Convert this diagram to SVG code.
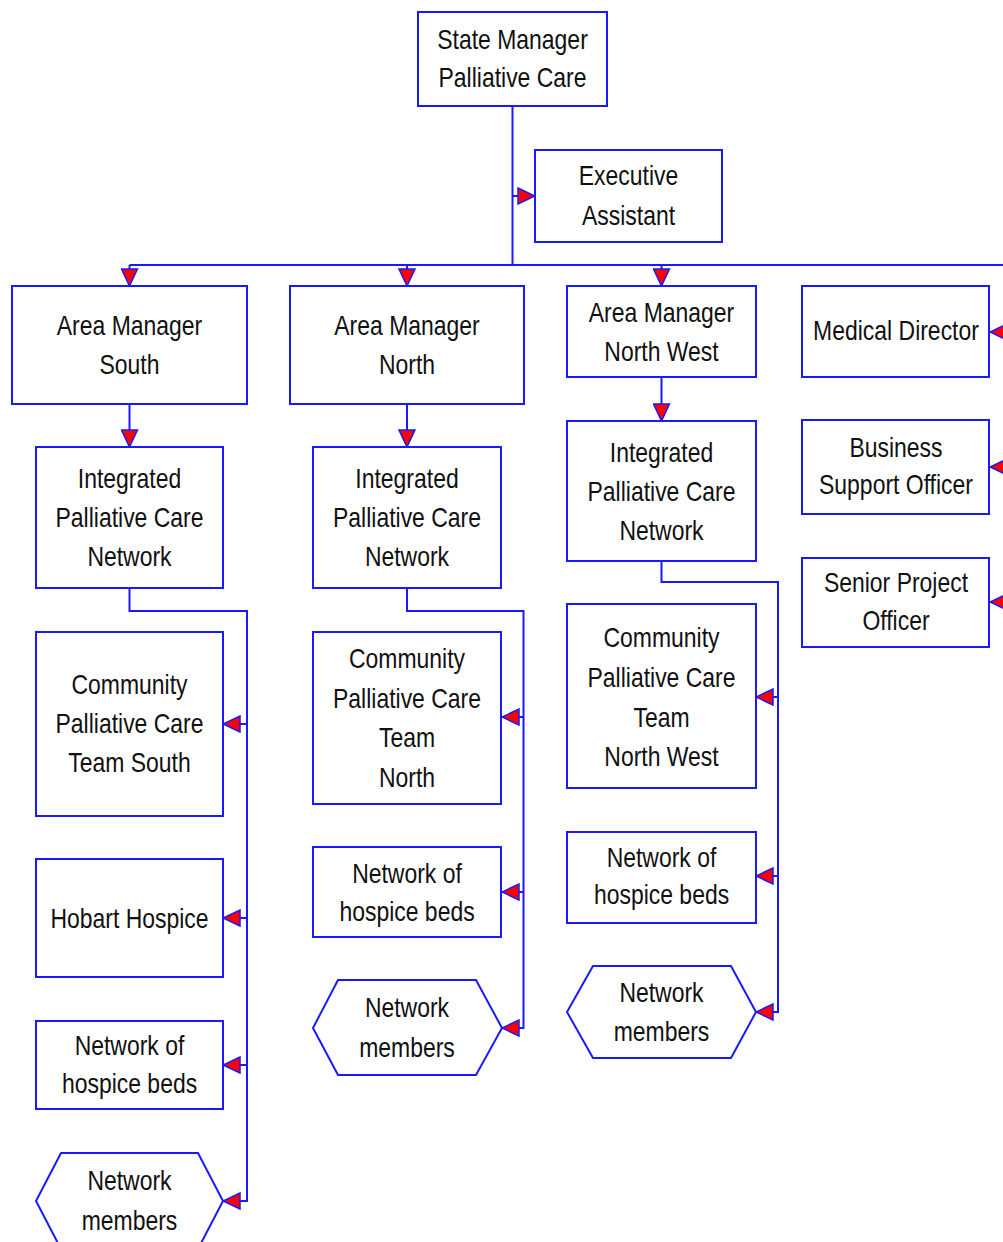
<svg xmlns="http://www.w3.org/2000/svg" width="1003" height="1242" viewBox="0 0 1003 1242">
  <defs>
    <marker id="arrow" markerUnits="userSpaceOnUse" viewBox="-1 -1 19 18" markerWidth="19" markerHeight="18" refX="17" refY="8" orient="auto">
      <path d="M0,0 L17,8 L0,16 Z" fill="#ff0000" stroke="#1a1aff" stroke-width="1.5" stroke-linejoin="miter"/>
    </marker>
    <style>
      .box { fill: #ffffff; stroke: #1a1aff; stroke-width: 2; }
      .link { fill: none; stroke: #1a1aff; stroke-width: 2; }
      .arrowed { marker-end: url(#arrow); }
      text { font-family: "Liberation Sans", Arial, sans-serif; font-size: 28px; fill: #111111; text-anchor: middle; }
    </style>
  </defs>

  <rect width="1003" height="1242" fill="#ffffff"/>

  <!-- connectors -->
  <g id="connectors">
    <path class="link" d="M512.5,106 V265"/>
    <path class="link arrowed" d="M512.5,196 H535"/>
    <path class="link" d="M129.5,265 H1012"/>
    <path class="link arrowed" d="M129.5,265 V286"/>
    <path class="link arrowed" d="M407,265 V286"/>
    <path class="link arrowed" d="M661.5,265 V286"/>
    <path class="link" d="M1012,265 V602"/>
    <path class="link arrowed" d="M1012,332 H990"/>
    <path class="link arrowed" d="M1012,467 H990"/>
    <path class="link arrowed" d="M1012,602 H990"/>

    <path class="link arrowed" d="M129.5,404 V447"/>
    <path class="link arrowed" d="M407,404 V447"/>
    <path class="link arrowed" d="M661.5,377 V421"/>

    <path class="link arrowed" d="M129.5,588 V611 H247 V1201 H223"/>
    <path class="link arrowed" d="M247,724 H223"/>
    <path class="link arrowed" d="M247,918 H223"/>
    <path class="link arrowed" d="M247,1065 H223"/>

    <path class="link arrowed" d="M407,588 V611 H523.5 V1028 H502"/>
    <path class="link arrowed" d="M523.5,717 H502"/>
    <path class="link arrowed" d="M523.5,892 H502"/>

    <path class="link arrowed" d="M661.5,561 V582 H778 V1012 H756"/>
    <path class="link arrowed" d="M778,697 H756"/>
    <path class="link arrowed" d="M778,876 H756"/>
  </g>

  <!-- labels use a narrowed sans: each line is centred on its node and compressed horizontally -->

  <!-- top level -->
  <g id="state-manager">
    <rect class="box" x="418" y="12" width="189" height="94"/>
    <text transform="translate(512.5 49) scale(0.82 1)">State Manager</text>
    <text transform="translate(512.5 87) scale(0.82 1)">Palliative Care</text>
  </g>
  <g id="executive-assistant">
    <rect class="box" x="535" y="150" width="187" height="92"/>
    <text transform="translate(628.5 185) scale(0.82 1)">Executive</text>
    <text transform="translate(628.5 225) scale(0.82 1)">Assistant</text>
  </g>

  <!-- area managers -->
  <g id="area-manager-south">
    <rect class="box" x="12" y="286" width="235" height="118"/>
    <text transform="translate(129.5 335) scale(0.82 1)">Area Manager</text>
    <text transform="translate(129.5 374) scale(0.82 1)">South</text>
  </g>
  <g id="area-manager-north">
    <rect class="box" x="290" y="286" width="234" height="118"/>
    <text transform="translate(407 335) scale(0.82 1)">Area Manager</text>
    <text transform="translate(407 374) scale(0.82 1)">North</text>
  </g>
  <g id="area-manager-north-west">
    <rect class="box" x="567" y="286" width="189" height="91"/>
    <text transform="translate(661.5 322) scale(0.82 1)">Area Manager</text>
    <text transform="translate(661.5 361) scale(0.82 1)">North West</text>
  </g>

  <!-- statewide roles -->
  <g id="medical-director">
    <rect class="box" x="802" y="286" width="187" height="91"/>
    <text transform="translate(896 340) scale(0.82 1)">Medical Director</text>
  </g>
  <g id="business-support-officer">
    <rect class="box" x="802" y="420" width="187" height="94"/>
    <text transform="translate(896 457) scale(0.82 1)">Business</text>
    <text transform="translate(896 494) scale(0.82 1)">Support Officer</text>
  </g>
  <g id="senior-project-officer">
    <rect class="box" x="802" y="558" width="187" height="89"/>
    <text transform="translate(896 592) scale(0.82 1)">Senior Project</text>
    <text transform="translate(896 630) scale(0.82 1)">Officer</text>
  </g>

  <!-- south column -->
  <g id="ipcn-south">
    <rect class="box" x="36" y="447" width="187" height="141"/>
    <text transform="translate(129.5 488) scale(0.82 1)">Integrated</text>
    <text transform="translate(129.5 527) scale(0.82 1)">Palliative Care</text>
    <text transform="translate(129.5 566) scale(0.82 1)">Network</text>
  </g>
  <g id="cpct-south">
    <rect class="box" x="36" y="632" width="187" height="184"/>
    <text transform="translate(129.5 694) scale(0.82 1)">Community</text>
    <text transform="translate(129.5 733) scale(0.82 1)">Palliative Care</text>
    <text transform="translate(129.5 772) scale(0.82 1)">Team South</text>
  </g>
  <g id="hobart-hospice">
    <rect class="box" x="36" y="859" width="187" height="118"/>
    <text transform="translate(129.5 928) scale(0.82 1)">Hobart Hospice</text>
  </g>
  <g id="hospice-beds-south">
    <rect class="box" x="36" y="1021" width="187" height="88"/>
    <text transform="translate(129.5 1055) scale(0.82 1)">Network of</text>
    <text transform="translate(129.5 1093) scale(0.82 1)">hospice beds</text>
  </g>
  <g id="members-south">
    <polygon class="box" points="61,1153 198,1153 223,1201 198,1249 61,1249 36,1201"/>
    <text transform="translate(129.5 1190) scale(0.82 1)">Network</text>
    <text transform="translate(129.5 1230) scale(0.82 1)">members</text>
  </g>

  <!-- north column -->
  <g id="ipcn-north">
    <rect class="box" x="313" y="447" width="188" height="141"/>
    <text transform="translate(407 488) scale(0.82 1)">Integrated</text>
    <text transform="translate(407 527) scale(0.82 1)">Palliative Care</text>
    <text transform="translate(407 566) scale(0.82 1)">Network</text>
  </g>
  <g id="cpct-north">
    <rect class="box" x="313" y="632" width="188" height="172"/>
    <text transform="translate(407 668) scale(0.82 1)">Community</text>
    <text transform="translate(407 708) scale(0.82 1)">Palliative Care</text>
    <text transform="translate(407 747) scale(0.82 1)">Team</text>
    <text transform="translate(407 787) scale(0.82 1)">North</text>
  </g>
  <g id="hospice-beds-north">
    <rect class="box" x="313" y="847" width="188" height="90"/>
    <text transform="translate(407 883) scale(0.82 1)">Network of</text>
    <text transform="translate(407 921) scale(0.82 1)">hospice beds</text>
  </g>
  <g id="members-north">
    <polygon class="box" points="338,980 476,980 502,1028 476,1075 338,1075 313,1028"/>
    <text transform="translate(407 1017) scale(0.82 1)">Network</text>
    <text transform="translate(407 1057) scale(0.82 1)">members</text>
  </g>

  <!-- north west column -->
  <g id="ipcn-north-west">
    <rect class="box" x="567" y="421" width="189" height="140"/>
    <text transform="translate(661.5 462) scale(0.82 1)">Integrated</text>
    <text transform="translate(661.5 501) scale(0.82 1)">Palliative Care</text>
    <text transform="translate(661.5 540) scale(0.82 1)">Network</text>
  </g>
  <g id="cpct-north-west">
    <rect class="box" x="567" y="604" width="189" height="184"/>
    <text transform="translate(661.5 647) scale(0.82 1)">Community</text>
    <text transform="translate(661.5 687) scale(0.82 1)">Palliative Care</text>
    <text transform="translate(661.5 727) scale(0.82 1)">Team</text>
    <text transform="translate(661.5 766) scale(0.82 1)">North West</text>
  </g>
  <g id="hospice-beds-north-west">
    <rect class="box" x="567" y="832" width="189" height="91"/>
    <text transform="translate(661.5 867) scale(0.82 1)">Network of</text>
    <text transform="translate(661.5 904) scale(0.82 1)">hospice beds</text>
  </g>
  <g id="members-north-west">
    <polygon class="box" points="593,966 731,966 756,1012 731,1058 593,1058 567,1012"/>
    <text transform="translate(661.5 1002) scale(0.82 1)">Network</text>
    <text transform="translate(661.5 1041) scale(0.82 1)">members</text>
  </g>
</svg>
